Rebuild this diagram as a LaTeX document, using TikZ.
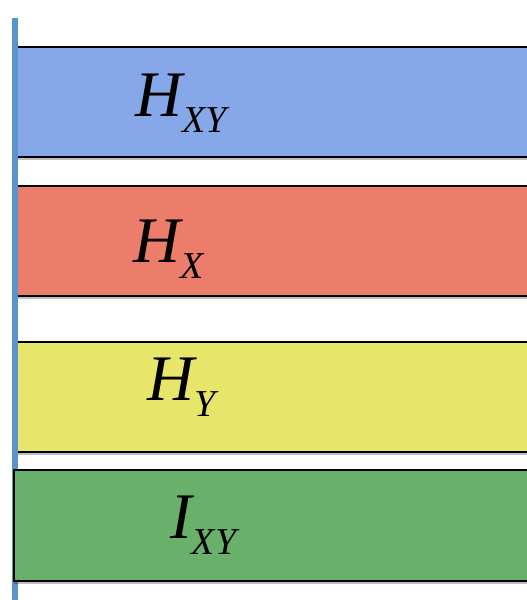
\documentclass[tikz,border=0pt]{standalone}
\usepackage{fontspec}
\setmainfont{Liberation Serif}
\usetikzlibrary{shadows}

\definecolor{axisblue}{HTML}{5B93CE}
\definecolor{bandblue}{HTML}{87A8E8}
\definecolor{bandred}{HTML}{EB7D6A}
\definecolor{bandyellow}{HTML}{E8E66A}
\definecolor{bandgreen}{HTML}{69B06A}

\newcommand{\entsym}[2]{\fontsize{65}{65}\selectfont\itshape #1\raisebox{-16pt}{\fontsize{38}{38}\selectfont #2}}

\tikzset{
    band/.style={draw=black, line width=1.5pt, rectangle, inner sep=0pt,
        minimum width=560pt, minimum height=110pt, anchor=north west,
        drop shadow={shadow xshift=0pt, shadow yshift=-3pt, opacity=0.25, fill=black}},
    entlabel/.style={anchor=base west, inner sep=0pt}
}

\begin{document}
\begin{tikzpicture}[x=1pt, y=-1pt]
    \useasboundingbox (0,0) rectangle (527,600);
    \clip (0,0) rectangle (527,600);
    % bands
    \node[band, fill=bandblue] (hxy) at (16,46) {};
    \node[band, fill=bandred] (hx) at (16,185) {};
    \node[band, fill=bandyellow] (hy) at (16,341) {};
    % vertical axis
    \coordinate (axistop) at (14.9,18);
    \coordinate (axisbot) at (14.9,600);
    \draw[axisblue, line width=5.8pt] (axistop) -- (axisbot);
    \node[band, fill=bandgreen, minimum height=111pt] (ixy) at (13,469) {};
    % labels
    \node[entlabel] (hxylabel) at (135,116) {\entsym{H}{XY}};
    \node[entlabel] (hxlabel) at (133,262) {\entsym{H}{X}};
    \node[entlabel] (hylabel) at (147,400) {\entsym{H}{Y}};
    \node[entlabel] (ixylabel) at (170,538) {\entsym{I}{XY}};
\end{tikzpicture}
\end{document}
